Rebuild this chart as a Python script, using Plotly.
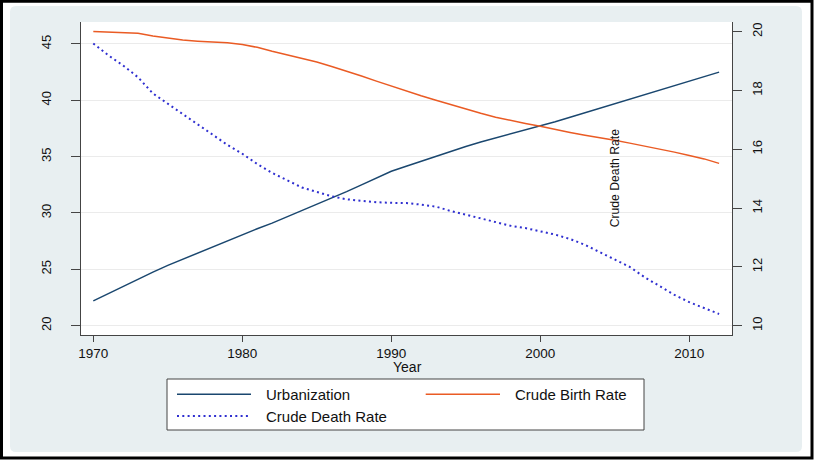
import plotly.graph_objects as go

years = list(range(1970, 2013))
urbanization = [22.2, 22.85, 23.5, 24.15, 24.75, 25.35, 25.9, 26.45, 27.0, 27.5,
                28.05, 28.6, 29.1, 29.65, 30.2, 30.75, 31.3, 31.9, 32.5, 33.1,
                33.7, 34.15, 34.6, 35.05, 35.5, 35.9, 36.3, 36.65, 37.0, 37.35,
                37.7, 38.1, 38.5, 38.9, 39.3, 39.7, 40.1, 40.5, 40.9, 41.3,
                41.7, 42.1, 42.5]
birth_rate = [46.1, 46.05, 46.0, 45.95, 45.7, 45.5, 45.35, 45.25, 45.2, 45.1,
              44.95, 44.7, 44.35, 44.05, 43.75, 43.4, 43.0, 42.6, 42.15, 41.7,
              41.25, 40.8, 40.4, 40.0, 39.6, 39.2, 38.85, 38.5, 38.2, 37.95,
              37.7, 37.4, 37.15, 36.9, 36.7, 36.45, 36.2, 35.95, 35.7, 35.4,
              35.1, 34.8, 34.4]
death_rate = [19.6, 19.2, 18.85, 18.45, 17.9, 17.55, 17.2, 16.85, 16.5, 16.15,
              15.85, 15.5, 15.2, 14.95, 14.7, 14.55, 14.4, 14.3, 14.25, 14.2,
              14.18, 14.17, 14.12, 14.05, 13.9, 13.78, 13.65, 13.52, 13.4, 13.32,
              13.22, 13.1, 12.95, 12.75, 12.5, 12.25, 12.0, 11.65, 11.35, 11.05,
              10.8, 10.6, 10.4]

x_ticks = [1970, 1980, 1990, 2000, 2010]
left_ticks = [20, 25, 30, 35, 40, 45]
right_ticks = [10, 12, 14, 16, 18, 20]

NAVY = "#1a476f"
ORANGE = "#ea5b24"
BLUE = "#2f2fd0"
BG = "#e8eff1"
AX = "#444444"
TXT = "#111111"
FONT = "Liberation Sans, Arial, sans-serif"

W, H = 816, 460
L, R, T, B = 81, 84, 22, 125
PW, PH = W - L - R, H - T - B


def px(x):
    return (x - L) / PW


def py(y):
    return (H - B - y) / PH


def rounded_rect(x0, y0, x1, y1, r):
    pts = [
        f"M {px(x0 + r)},{py(y0)}",
        f"L {px(x1 - r)},{py(y0)}",
        f"Q {px(x1)},{py(y0)} {px(x1)},{py(y0 + r)}",
        f"L {px(x1)},{py(y1 - r)}",
        f"Q {px(x1)},{py(y1)} {px(x1 - r)},{py(y1)}",
        f"L {px(x0 + r)},{py(y1)}",
        f"Q {px(x0)},{py(y1)} {px(x0)},{py(y1 - r)}",
        f"L {px(x0)},{py(y0 + r)}",
        f"Q {px(x0)},{py(y0)} {px(x0 + r)},{py(y0)}",
        "Z",
    ]
    return " ".join(pts)


fig = go.Figure()
fig.add_trace(go.Scatter(x=years, y=urbanization, mode="lines", name="Urbanization",
                         line=dict(color=NAVY, width=1.5), yaxis="y"))
fig.add_trace(go.Scatter(x=years, y=birth_rate, mode="lines", name="Crude Birth Rate",
                         line=dict(color=ORANGE, width=1.5), yaxis="y"))
fig.add_trace(go.Scatter(x=years, y=death_rate, mode="lines", name="Crude Death Rate",
                         line=dict(color=BLUE, width=2, dash="2px,3.3px"), yaxis="y2"))

shapes = [
    dict(type="path", xref="paper", yref="paper", path=rounded_rect(10, 6, 802, 452, 6),
         fillcolor=BG, line=dict(width=0), layer="below"),
    dict(type="rect", xref="paper", yref="paper", x0=0, x1=1, y0=0, y1=1,
         fillcolor="white", line=dict(width=0), layer="below"),
    dict(type="rect", xref="paper", yref="paper", x0=px(1.5), x1=px(812), y0=py(458), y1=py(1.2),
         fillcolor="rgba(0,0,0,0)", line=dict(color="black", width=3), layer="above"),
    # legend box
    dict(type="rect", xref="paper", yref="paper", x0=px(167), x1=px(644), y0=py(430), y1=py(379),
         fillcolor="white", line=dict(color="#444444", width=1), layer="above"),
    dict(type="line", xref="paper", yref="paper", x0=px(177), x1=px(251), y0=py(394.3), y1=py(394.3),
         line=dict(color=NAVY, width=1.5)),
    dict(type="line", xref="paper", yref="paper", x0=px(425.7), x1=px(500), y0=py(394.3), y1=py(394.3),
         line=dict(color=ORANGE, width=1.5)),
    dict(type="line", xref="paper", yref="paper", x0=px(177), x1=px(251), y0=py(416), y1=py(416),
         line=dict(color=BLUE, width=2, dash="2px,3.3px")),
]

legend_font = dict(family=FONT, size=15, color=TXT)
annotations = [
    dict(text="Urbanization", xref="paper", yref="paper", x=px(264), y=py(394.3),
         xanchor="left", yanchor="middle", showarrow=False, font=legend_font),
    dict(text="Crude Birth Rate", xref="paper", yref="paper", x=px(512.7), y=py(394.3),
         xanchor="left", yanchor="middle", showarrow=False, font=legend_font),
    dict(text="Crude Death Rate", xref="paper", yref="paper", x=px(264), y=py(416),
         xanchor="left", yanchor="middle", showarrow=False, font=legend_font),
    dict(text="Crude Death Rate", xref="paper", yref="paper", x=px(615), y=py(178.3),
         xanchor="center", yanchor="middle", textangle=-90, showarrow=False,
         font=dict(family=FONT, size=12.2, color=TXT)),
    dict(text="Year", xref="paper", yref="paper", x=px(407), y=py(366.5),
         xanchor="center", yanchor="middle", showarrow=False,
         font=dict(family=FONT, size=14, color=TXT)),
]

fig.update_layout(
    width=W, height=H,
    margin=dict(l=L, r=R, t=T, b=B),
    paper_bgcolor="white",
    plot_bgcolor="white",
    showlegend=False,
    shapes=shapes,
    annotations=annotations,
    xaxis=dict(range=[1969.174, 2012.866], tickvals=x_ticks, ticks="outside", ticklen=6,
               tickcolor=AX, showline=True, linecolor=AX, linewidth=1.3, showgrid=False,
               zeroline=False,
               tickfont=dict(family=FONT, size=13.5, color=TXT)),
    yaxis=dict(range=[19.17, 46.95], tickvals=left_ticks, ticks="outside", ticklen=8.5,
               tickcolor=AX, showline=True, linecolor=AX, linewidth=1.3, showgrid=True,
               gridcolor="#ebebeb", gridwidth=1, zeroline=False, tickangle=-90,
               ticklabelstandoff=15,
               tickfont=dict(family=FONT, size=13, color=TXT)),
    yaxis2=dict(range=[9.684, 20.33], tickvals=right_ticks, ticks="outside", ticklen=8.5,
                tickcolor=AX, showline=True, linecolor=AX, linewidth=1.3, showgrid=False,
                zeroline=False, tickangle=-90, overlaying="y", side="right",
                ticklabelstandoff=5,
                tickfont=dict(family=FONT, size=13, color=TXT)),
)

fig.write_html("out.html")
